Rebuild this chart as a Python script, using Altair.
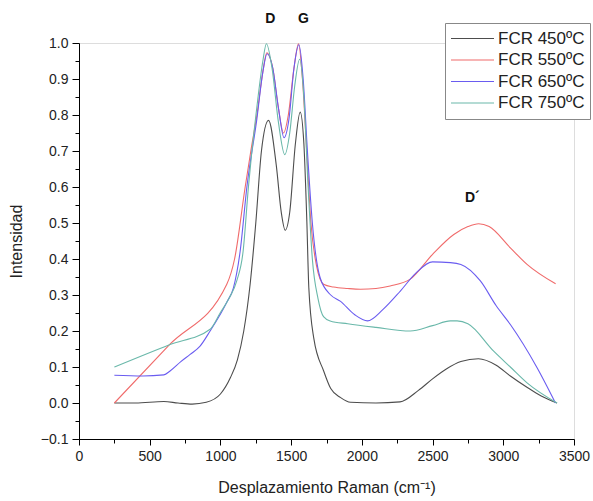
import altair as alt
import pandas as pd

series = ["FCR 450ºC", "FCR 550ºC", "FCR 650ºC", "FCR 750ºC"]
colors = ["#4d4d4d", "#f06b6b", "#6a5cf0", "#6ab8aa"]

x450 = [250, 400, 600, 700, 800, 900, 1000, 1070, 1120, 1165, 1210, 1250, 1290, 1340, 1395, 1430, 1458,
        1490, 1530, 1564, 1590, 1611, 1625, 1660, 1730, 1780, 1850, 1920, 2100, 2270, 2400, 2500, 2600,
        2700, 2824, 2950, 3050, 3170, 3265, 3380]
y450 = [0.0, 0.0, 0.004, 0.0, -0.003, 0.002, 0.025, 0.07, 0.12, 0.2, 0.33, 0.5, 0.7, 0.785, 0.66, 0.53, 0.48,
        0.53, 0.72, 0.808, 0.72, 0.505, 0.32, 0.18, 0.089, 0.04, 0.015, 0.002, 0.0, 0.003, 0.035, 0.067, 0.095,
        0.115, 0.123, 0.105, 0.075, 0.043, 0.02, 0.0]

x550 = [250, 640, 1045, 1100, 1175, 1215, 1258, 1300, 1328, 1370, 1410, 1446, 1480, 1520, 1552, 1580, 1610,
        1640, 1680, 1729, 1800, 1900, 1990, 2100, 2200, 2342, 2500, 2650, 2750, 2826, 2900, 3050, 3168, 3370]
y550 = [0.0, 0.162, 0.33, 0.4, 0.6, 0.7, 0.8, 0.92, 0.973, 0.93, 0.82, 0.75, 0.8, 0.93, 0.998, 0.9, 0.7,
        0.5, 0.38, 0.33, 0.322, 0.318, 0.316, 0.318, 0.325, 0.344, 0.413, 0.468, 0.49, 0.498, 0.49, 0.431, 0.385, 0.331]

x650 = [250, 450, 600, 644, 720, 786, 856, 927, 1045, 1092, 1139, 1187, 1258, 1300, 1330, 1370, 1410, 1450,
        1485, 1520, 1555, 1585, 1615, 1650, 1705, 1780, 1847, 1950, 2040, 2150, 2272, 2380, 2500, 2626,
        2700, 2838, 2950, 3050, 3239, 3369]
y650 = [0.077, 0.075, 0.078, 0.089, 0.115, 0.135, 0.158, 0.2, 0.28, 0.32, 0.42, 0.6, 0.79, 0.92, 0.97, 0.93,
        0.82, 0.737, 0.79, 0.93, 0.995, 0.9, 0.7, 0.5, 0.348, 0.3, 0.283, 0.245, 0.228, 0.26, 0.311, 0.36,
        0.392, 0.39, 0.385, 0.339, 0.27, 0.218, 0.098, 0.0]

x750 = [250, 640, 927, 998, 1060, 1116, 1160, 1198, 1260, 1300, 1325, 1365, 1410, 1455, 1490, 1525, 1560,
        1590, 1620, 1650, 1690, 1729, 1776, 1900, 2100, 2342, 2500, 2626, 2673, 2750, 2932, 3050, 3168, 3380]
y750 = [0.1, 0.162, 0.205, 0.25, 0.29, 0.34, 0.42, 0.6, 0.83, 0.95, 0.998, 0.93, 0.78, 0.69, 0.75, 0.88, 0.955,
        0.85, 0.6, 0.4, 0.29, 0.24, 0.228, 0.22, 0.21, 0.2, 0.215, 0.228, 0.228, 0.22, 0.144, 0.1, 0.056, 0.0]

x_ticks = [0, 500, 1000, 1500, 2000, 2500, 3000, 3500]
x_minor = [250, 750, 1250, 1750, 2250, 2750, 3250]
y_ticks = [-0.1, 0.0, 0.1, 0.2, 0.3, 0.4, 0.5, 0.6, 0.7, 0.8, 0.9, 1.0]
y_minor = [-0.05, 0.05, 0.15, 0.25, 0.35, 0.45, 0.55, 0.65, 0.75, 0.85, 0.95]

peak_labels = ["D", "G", "D´"]
peak_x = [1352, 1587, 2781]
peak_y = [1.067, 1.067, 0.57]

rows = []
for name, xs, ys in zip(series, [x450, x550, x650, x750], [y450, y550, y650, y750]):
    for i, (a, b) in enumerate(zip(xs, ys)):
        rows.append({"serie": name, "x": a, "y": b, "i": i})
df = pd.DataFrame(rows)
ann = pd.DataFrame({"label": peak_labels, "x": peak_x, "y": peak_y})

FONT = "Liberation Sans"
xscale = alt.Scale(domain=[0, 3500], nice=False, zero=False)
yscale = alt.Scale(domain=[-0.1, 1.0], nice=False, zero=False)

lines = alt.Chart(df).mark_line(strokeWidth=1.1, interpolate="monotone").encode(
    x=alt.X("x:Q", scale=xscale, axis=alt.Axis(
        values=x_ticks, format="d", orient="bottom", title="Desplazamiento Raman (cm⁻¹)",
        tickSize=6, labelPadding=4, titlePadding=16, grid=False,
        labelFontSize=14, titleFontSize=16, labelFont=FONT, titleFont=FONT,
        titleFontWeight="normal", labelColor="#222", titleColor="#222",
        domainColor="#000", tickColor="#000", labelFlush=False)),
    y=alt.Y("y:Q", scale=yscale, axis=alt.Axis(
        values=y_ticks, format=".1f", orient="left", title="Intensidad",
        tickSize=7, labelPadding=4, titlePadding=16, grid=False,
        labelFontSize=14, titleFontSize=16, labelFont=FONT, titleFont=FONT,
        titleFontWeight="normal", labelColor="#222", titleColor="#222",
        domainColor="#000", tickColor="#000", labelFlush=False)),
    color=alt.Color("serie:N", scale=alt.Scale(domain=series, range=colors), legend=alt.Legend(
        title=None, orient="none", legendX=366, legendY=-20, symbolType="stroke",
        symbolSize=1849, symbolStrokeWidth=1.2, clipHeight=21, rowPadding=0.5,
        labelFontSize=17, labelFont=FONT, labelColor="#222", labelOffset=3,
        padding=5, strokeColor="#888", fillColor="white", labelLimit=200)),
    order="i:Q",
)

minor = alt.Chart(df).mark_point(opacity=0).encode(
    x=alt.X("x:Q", scale=xscale, axis=alt.Axis(
        values=x_minor, orient="bottom", labels=False, domain=False, title=None,
        tickSize=4, tickColor="#000", grid=False)),
    y=alt.Y("y:Q", scale=yscale, axis=alt.Axis(
        values=y_minor, orient="left", labels=False, domain=False, title=None,
        tickSize=4, tickColor="#000", grid=False)),
)

text = alt.Chart(ann).mark_text(fontSize=14, fontWeight="bold", font=FONT, color="#111").encode(
    x=alt.X("x:Q", scale=xscale, axis=None),
    y=alt.Y("y:Q", scale=yscale, axis=None),
    text="label:N",
)

chart = alt.layer(lines, minor, text).resolve_axis(x="independent", y="independent").properties(
    width=495, height=396,
    autosize=alt.AutoSizeParams(type="none"),
    padding={"left": 79, "top": 43, "right": 19, "bottom": 62},
).configure_view(stroke=None).configure(background="white")

chart.save("out.html", embed_options={"renderer": "svg", "actions": False})
